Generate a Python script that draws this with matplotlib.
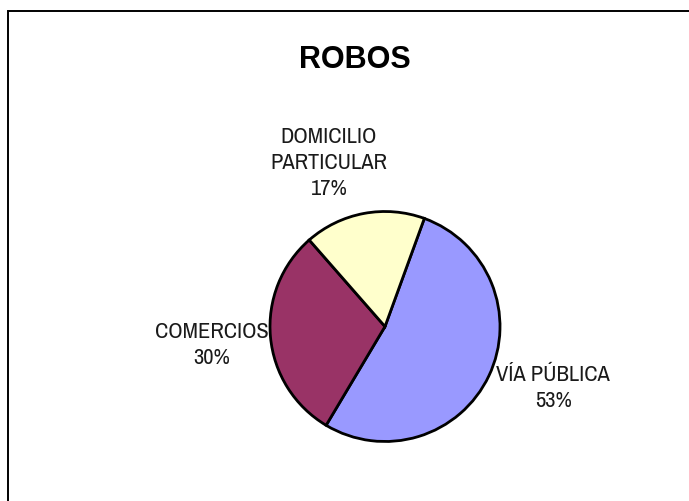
import matplotlib
matplotlib.use("Agg")
import matplotlib.pyplot as plt
from matplotlib.patches import Rectangle

categories = ["VÍA PÚBLICA", "COMERCIOS", "DOMICILIO\nPARTICULAR"]
values = [53, 30, 17]
pct_labels = ["53%", "30%", "17%"]
colors = ["#9999FF", "#993366", "#FFFFCC"]
title = "ROBOS"

fig = plt.figure(figsize=(6.89, 5.02), dpi=100)
W, H = 689, 502
R = 115.0
cx, cy = 385.0, 327.5

ax = fig.add_axes([0, 0, 1, 1])
ax.pie(values, colors=colors, startangle=70, counterclock=False,
       wedgeprops=dict(edgecolor="black", linewidth=2.0))
ax.set_aspect("auto")
ax.set_xlim(-cx / R, (W - cx) / R)
ax.set_ylim(-(H - cy) / R, cy / R)
ax.axis("off")

label_font = ["Archivo Narrow", "Liberation Sans", "DejaVu Sans"]
label_pos = [(1.461, -0.526), (-1.504, -0.152), (-0.487, 1.430)]
for (lx, ly), cat, p in zip(label_pos, categories, pct_labels):
    ax.text(lx, ly, cat + "\n" + p, ha="center", va="center",
            fontsize=16.2, family=label_font, linespacing=1.35, color="#1a1a1a")

fig.text(354.5 / W, 1 - 60 / H, title, ha="center", va="center",
         fontsize=22, fontweight="bold", family=["Liberation Sans", "DejaVu Sans"])

fig.patches.append(Rectangle((8 / W, -0.1), 2, (H - 12) / H + 0.1,
                             transform=fig.transFigure, fill=False,
                             edgecolor="black", linewidth=1.4))

fig.savefig("out.png", dpi=100)
